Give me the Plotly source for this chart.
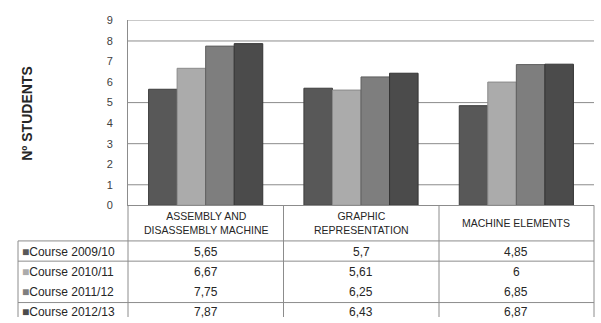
import plotly.graph_objects as go

# Subjects (x categories) and their two-line header labels for the data table
subjects = ["ASSEMBLY AND DISASSEMBLY MACHINE", "GRAPHIC REPRESENTATION", "MACHINE ELEMENTS"]
subject_labels = ["ASSEMBLY AND<br>DISASSEMBLY MACHINE", "GRAPHIC<br>REPRESENTATION", "MACHINE ELEMENTS"]

# Average number of students per course
courses = ["Course 2009/10", "Course 2010/11", "Course 2011/12", "Course 2012/13"]
course_2009_10 = [5.65, 5.7, 4.85]
course_2010_11 = [6.67, 5.61, 6]
course_2011_12 = [7.75, 6.25, 6.85]
course_2012_13 = [7.87, 6.43, 6.87]
series_values = [course_2009_10, course_2010_11, course_2011_12, course_2012_13]

y_ticks = list(range(0, 10))
grid_levels = [1, 3, 5, 8, 9]

colors = ["#585858", "#ababab", "#7e7e7e", "#4b4b4b"]
edge_colors = ["#3c3c3c", "#8a8a8a", "#5e5e5e", "#333333"]

W, H = 601, 323
FONT = "Liberation Sans, Arial, sans-serif"
LINE = "#8c8c8c"


def px(x):
    return x / W


def py(y):
    return 1 - y / H


fig = go.Figure()
for name, vals, c, ec in zip(courses, series_values, colors, edge_colors):
    fig.add_trace(go.Bar(
        x=subjects, y=vals, name=name,
        marker=dict(color=c, line=dict(color=ec, width=1)),
        showlegend=False,
    ))

shapes = []
# horizontal gridlines
for g in grid_levels:
    shapes.append(dict(type="line", xref="paper", yref="y", x0=px(128), x1=px(594),
                       y0=g, y1=g, line=dict(color=LINE, width=1), layer="below"))

# data table frame under the plot
x_left, x_axis, x_right = 18, 128, 594
y_axis, y_header, y_bottom = 207, 244, 323
row_lines = [244, 265, 308]
col_lines = [283.5, 439]

for yl in row_lines:
    shapes.append(dict(type="line", xref="paper", yref="paper", x0=px(x_left), x1=px(x_right),
                       y0=py(yl), y1=py(yl), line=dict(color=LINE, width=1)))
shapes.append(dict(type="line", xref="paper", yref="paper", x0=px(x_left), x1=px(x_left),
                   y0=py(y_header), y1=py(y_bottom), line=dict(color=LINE, width=1)))
for xl in [x_axis] + col_lines + [x_right]:
    shapes.append(dict(type="line", xref="paper", yref="paper", x0=px(xl), x1=px(xl),
                       y0=py(y_axis), y1=py(y_bottom), line=dict(color=LINE, width=1)))

annotations = []
# y-axis title
annotations.append(dict(text="<b>Nº STUDENTS</b>", xref="paper", yref="paper",
                        x=px(27), y=py(112), xanchor="center", yanchor="middle",
                        textangle=-90, showarrow=False,
                        font=dict(family=FONT, size=14, color="#262626")))
# table header
for subj, lab in zip(subjects, subject_labels):
    annotations.append(dict(text=lab, xref="x", yref="paper", x=subj, y=py(225),
                            xanchor="center", yanchor="middle", showarrow=False,
                            font=dict(family=FONT, size=10.5, color="#262626")))
# table rows
row_y = [255, 276, 297, 318]
for i, (name, vals, c) in enumerate(zip(courses, series_values, colors)):
    annotations.append(dict(text=f"<span style='color:{c}'>■</span>{name}", xref="paper", yref="paper",
                            x=px(20), y=py(row_y[i]), xanchor="left", yanchor="middle",
                            showarrow=False,
                            font=dict(family=FONT, size=12, color="#262626")))
    for subj, v in zip(subjects, vals):
        annotations.append(dict(text=f"{v:g}".replace(".", ","), xref="x", yref="paper",
                                x=subj, y=py(row_y[i]), xanchor="center", yanchor="middle",
                                showarrow=False,
                                font=dict(family=FONT, size=12, color="#262626")))

fig.update_layout(
    width=W, height=H,
    margin=dict(l=0, r=0, t=0, b=0),
    paper_bgcolor="white", plot_bgcolor="white",
    barmode="group", bargap=0.265, bargroupgap=0,
    xaxis=dict(domain=[px(128), px(594)], showticklabels=False, showgrid=False,
               showline=True, linecolor=LINE, linewidth=1, ticks="", zeroline=False),
    yaxis=dict(domain=[py(207), py(15)], range=[0, 9], tickvals=y_ticks, showgrid=False,
               showline=True, linecolor=LINE, linewidth=1, zeroline=False,
               ticks="", ticklabelstandoff=12,
               tickfont=dict(family=FONT, size=11, color="#404040")),
    shapes=shapes, annotations=annotations,
)

fig.write_html("out.html")
